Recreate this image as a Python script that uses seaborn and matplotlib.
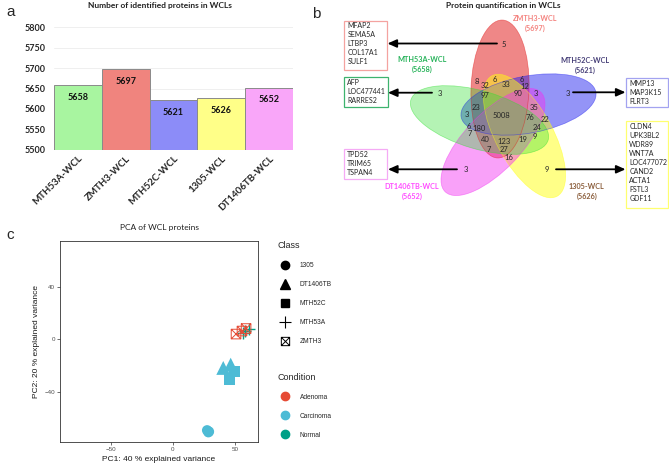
import numpy as np
import pandas as pd
import matplotlib
matplotlib.use("Agg")
import matplotlib.pyplot as plt
import seaborn as sns
from matplotlib.patches import Ellipse, Rectangle
from matplotlib.path import Path
from matplotlib.lines import Line2D

sns.set_theme(style="white")
plt.rcParams["font.family"] = ["Lato", "DejaVu Sans"]

# ---------------- data: panel a ----------------
wcl_samples = ["MTH53A-WCL", "ZMTH3-WCL", "MTH52C-WCL", "1305-WCL", "DT1406TB-WCL"]
protein_counts = [5658, 5697, 5621, 5626, 5652]
bar_colors = ["#A8F5A0", "#F0847E", "#8C8CF8", "#FFFF88", "#F9A6F9"]

# ---------------- data: panel b ----------------
venn_sets = ["ZMTH3-WCL", "MTH52C-WCL", "1305-WCL", "DT1406TB-WCL", "MTH53A-WCL"]
venn_totals = [5697, 5621, 5626, 5652, 5658]
venn_counts = [5, 8, 6, 33, 6, 32, 12, 90, 3, 3, 97, 23, 35, 3, 5008, 76, 22,
               6, 180, 24, 7, 9, 40, 123, 19, 7, 27, 16, 3, 9, 3]
genes_zmth3 = ["MFAP2", "SEMA5A", "LTBP3", "COL17A1", "SULF1"]
genes_mth53a = ["AFP", "LOC477441", "RARRES2"]
genes_mth52c = ["MMP13", "MAP3K15", "FLRT3"]
genes_1305 = ["CLDN4", "UPK3BL2", "WDR89", "WNT7A", "LOC477072", "CAND2", "ACTA1", "FSTL3", "GDF11"]
genes_dt1406tb = ["TPD52", "TRIM65", "TSPAN4"]

# ---------------- data: panel c ----------------
pca_class = ["1305"] * 3 + ["DT1406TB"] * 2 + ["MTH52C"] * 2 + ["MTH53A"] * 3 + ["ZMTH3"] * 3
pca_condition = ["Carcinoma"] * 7 + ["Normal"] * 3 + ["Adenoma"] * 3
pc1 = [27.5, 28.5, 29.0, 40.5, 46.5, 45.5, 49.5, 56.5, 58.0, 61.0, 50.8, 55.6, 58.9]
pc2 = [-69.5, -71.0, -70.5, -22.0, -19.5, -31.0, -25.0, 4.6, 6.5, 7.6, 3.8, 6.1, 8.0]
class_levels = ["1305", "DT1406TB", "MTH52C", "MTH53A", "ZMTH3"]
condition_levels = ["Adenoma", "Carcinoma", "Normal"]
condition_colors = ["#E64B35", "#4DBBD5", "#00A087"]

# ---------------- figure ----------------
W, H = 669, 467
fig = plt.figure(figsize=(W / 100, H / 100), dpi=100)


def px_axes(x0, y0, x1, y1):
    return fig.add_axes([x0 / W, 1 - y1 / H, (x1 - x0) / W, (y1 - y0) / H])


# ===== panel a =====
axa = px_axes(54, 21.2, 293, 149.7)
dfa = pd.DataFrame({"sample": wcl_samples, "count": protein_counts})
sns.barplot(data=dfa, x="sample", y="count", hue="sample", palette=bar_colors,
            width=1.0, edgecolor="#8a8a8a", linewidth=0.7, legend=False, ax=axa,
            saturation=1)
axa.set_ylim(5500, 5815)
axa.set_xlim(-0.5, 4.5)
axa.set_yticks(np.arange(5500, 5801, 50))
axa.yaxis.grid(True, color="#ececec", lw=0.6)
axa.set_axisbelow(True)
for s in axa.spines.values():
    s.set_visible(False)
axa.set_xlabel("")
axa.set_ylabel("")
axa.tick_params(axis="y", length=0, pad=6, labelsize=6.5)
axa.tick_params(axis="x", length=0, pad=3, labelsize=7)
for lab in axa.get_yticklabels():
    lab.set_fontweight("bold")
for lab in axa.get_xticklabels():
    lab.set_fontweight("bold")
    lab.set_rotation(45)
    lab.set_ha("right")
    lab.set_rotation_mode("anchor")
for cont in axa.containers:
    axa.bar_label(cont, padding=-12, fontsize=6.5, fontweight="bold", color="#111111")
fig.text(160 / W, 1 - 5.5 / H, "Number of identified proteins in WCLs", ha="center",
         va="center", fontsize=6, fontweight="bold", color="#222222")
fig.text(6 / W, 1 - 12 / H, "a", fontsize=11, family="Liberation Sans", va="center")

# ===== panel b =====
axb = px_axes(330, 0, 669, 215)
axb.set_xlim(330, 669)
axb.set_ylim(215, 0)
axb.axis("off")

ell_layout = {  # center x, center y, major, minor, screen angle (deg, y-up)
    "ZMTH3-WCL": (500, 89, 138, 58, 88),
    "MTH52C-WCL": (528.5, 104.5, 137, 57, 10.5),
    "1305-WCL": (524.5, 136, 137, 57, -61.6),
    "DT1406TB-WCL": (493, 142, 138, 57, 46.2),
    "MTH53A-WCL": (479.5, 120, 143, 58, -16.3),
}
ell_fill = {"ZMTH3-WCL": ("#E21A1A", 0.52), "MTH52C-WCL": ("#2020F0", 0.48),
            "1305-WCL": ("#FFFF10", 0.5), "DT1406TB-WCL": ("#F230F2", 0.45),
            "MTH53A-WCL": ("#30E030", 0.36)}
for name in ["ZMTH3-WCL", "MTH52C-WCL", "1305-WCL", "DT1406TB-WCL", "MTH53A-WCL"]:
    cx, cy, a, b, ang = ell_layout[name]
    col, al = ell_fill[name]
    axb.add_patch(Ellipse((cx, cy), a, b, angle=-ang, facecolor=col, alpha=al,
                          edgecolor="none"))
for name in ["ZMTH3-WCL", "MTH52C-WCL", "1305-WCL", "DT1406TB-WCL", "MTH53A-WCL"]:
    cx, cy, a, b, ang = ell_layout[name]
    col, al = ell_fill[name]
    axb.add_patch(Ellipse((cx, cy), a, b, angle=-ang, facecolor="none",
                          edgecolor=col, alpha=0.5, lw=0.5))

count_pos = [(503.3, 44.3), (476.7, 82), (494.7, 80), (505.7, 84.7), (521.7, 79),
             (484.7, 86), (525.3, 86.3), (517.7, 93), (535.7, 93.3), (568.3, 93.3),
             (484.7, 95.3), (475.7, 107.3), (534.3, 107.3), (466.7, 114.7), (501, 115.3),
             (530, 118), (545, 120), (469.3, 126.3), (479.3, 128.7), (537.3, 127.7),
             (470, 134), (534.7, 136.7), (485, 139.3), (504.3, 141.7), (522.7, 139.3),
             (489, 150), (503.7, 150), (509.3, 157.3), (466, 170), (547.3, 170), (440, 93.3)]
for n, (x, y) in zip(venn_counts, count_pos):
    axb.text(x, y, str(n), ha="center", va="center", fontsize=5.5, color="#262626")

label_layout = {"ZMTH3-WCL": (535, 18.3, "#F4827E"), "MTH52C-WCL": (585, 60.5, "#463F78"),
                "1305-WCL": (586.7, 186.7, "#8B5E3C"), "DT1406TB-WCL": (411.7, 186.7, "#FF4CFF"),
                "MTH53A-WCL": (421.7, 60, "#27B35A")}
for name, tot in zip(venn_sets, venn_totals):
    x, y, c = label_layout[name]
    axb.text(x, y, name, ha="center", va="center", fontsize=5.2, fontweight="bold", color=c)
    axb.text(x, y + 9.8, f"({tot})", ha="center", va="center", fontsize=5.2,
             fontweight="bold", color=c)

box_layout = [  # genes, x0, y0, x1, y1, edge, arrow start x, arrow end x, arrow y
    (genes_zmth3, 344, 20.7, 387, 70, "#F4A3A0", 497, 387.5, 43.5),
    (genes_mth53a, 344, 77.3, 387.7, 107.3, "#3DB36E", 432, 388, 92.7),
    (genes_mth52c, 626, 78.3, 668.3, 107.3, "#A3A3F0", 573, 625.5, 92.3),
    (genes_1305, 626, 121, 668.3, 207.7, "#FFFF70", 556, 625.5, 169.3),
    (genes_dt1406tb, 344, 149.3, 387.3, 179.3, "#F5AAF5", 457, 388, 169.3),
]
for genes, x0, y0, x1, y1, ec, ax0, ax1, ay in box_layout:
    axb.add_patch(Rectangle((x0, y0), x1 - x0, y1 - y0, facecolor="white", edgecolor=ec, lw=0.9))
    for i, g in enumerate(genes):
        axb.text(x0 + 3.3, y0 + 5.2 + 9.0 * i, g, ha="left", va="center", fontsize=5,
                 color="#262626")
    axb.annotate("", xy=(ax1, ay), xytext=(ax0, ay),
                 arrowprops=dict(arrowstyle="-|>,head_length=0.45,head_width=0.2",
                                 color="black", lw=1.3, shrinkA=0, shrinkB=0))
fig.text(503.3 / W, 1 - 5.5 / H, "Protein quantification in WCLs", ha="center",
         va="center", fontsize=6, fontweight="bold", color="#222222")
fig.text(316.5 / W, 1 - 14 / H, "b", fontsize=11, family="Liberation Sans", va="center",
         ha="center")

# ===== panel c =====
axc = px_axes(60, 241, 258, 441.7)
dfc = pd.DataFrame({"PC1": pc1, "PC2": pc2, "Class": pca_class, "Condition": pca_condition})
cond_pal = dict(zip(condition_levels, condition_colors))
xsq = Path([(-1, -1), (1, -1), (1, 1), (-1, 1), (-1, -1), (-1, -1), (1, 1), (-1, 1), (1, -1)],
           [Path.MOVETO, Path.LINETO, Path.LINETO, Path.LINETO, Path.CLOSEPOLY,
            Path.MOVETO, Path.LINETO, Path.MOVETO, Path.LINETO])
class_markers = {"1305": "o", "DT1406TB": "^", "MTH52C": "s", "MTH53A": "+", "ZMTH3": xsq}
class_sizes = {"1305": 55, "DT1406TB": 100, "MTH52C": 60, "MTH53A": 75, "ZMTH3": 48}
for cl in class_levels:
    sub = dfc[dfc["Class"] == cl]
    m = class_markers[cl]
    if cl == "ZMTH3":
        sns.scatterplot(data=sub, x="PC1", y="PC2", marker=m, s=class_sizes[cl],
                        facecolors="none", edgecolor=cond_pal["Adenoma"], linewidth=0.7,
                        legend=False, ax=axc)
    elif cl == "MTH53A":
        sns.scatterplot(data=sub, x="PC1", y="PC2", hue="Condition", palette=cond_pal,
                        marker=m, s=class_sizes[cl], linewidth=1.0, legend=False, ax=axc)
    else:
        sns.scatterplot(data=sub, x="PC1", y="PC2", hue="Condition", palette=cond_pal,
                        marker=m, s=class_sizes[cl], linewidth=0, legend=False, ax=axc)
axc.set_xlim(-91, 68.5)
axc.set_ylim(-78.2, 74.7)
axc.set_xticks([-50, 0, 50])
axc.set_yticks([-40, 0, 40])
for s in axc.spines.values():
    s.set_visible(True)
    s.set_color("#333333")
    s.set_linewidth(0.6)
axc.tick_params(axis="both", which="both", direction="out", length=2, width=0.5,
                color="#333333", labelsize=4.5, labelcolor="#4d4d4d", pad=1.5,
                bottom=True, left=True)
for lab in axc.get_xticklabels() + axc.get_yticklabels():
    lab.set_family("Liberation Sans")
axc.set_xlabel("PC1: 40 % explained variance", fontsize=6, family="Liberation Sans",
               color="#1a1a1a", labelpad=3)
axc.set_ylabel("PC2: 20 % explained variance", fontsize=6, family="Liberation Sans",
               color="#1a1a1a", labelpad=3)
fig.text(159 / W, 1 - 227.7 / H, "PCA of WCL proteins", ha="center", va="center",
         fontsize=6, color="#222222")
fig.text(6 / W, 1 - 235 / H, "c", fontsize=11, family="Liberation Sans", va="center")

# legends
class_handles = []
for cl in class_levels:
    m = class_markers[cl]
    if cl == "ZMTH3":
        h = Line2D([], [], ls="", marker=m, markersize=6, markerfacecolor="none",
                   markeredgecolor="black", markeredgewidth=0.7)
    elif cl == "MTH53A":
        h = Line2D([], [], ls="", marker=m, markersize=8, color="black", markeredgewidth=0.8)
    else:
        h = Line2D([], [], ls="", marker=m, markersize=6 if m != "^" else 7, color="black")
    class_handles.append(h)
cond_handles = [Line2D([], [], ls="", marker="o", markersize=6, color=c) for c in condition_colors]

leg_kw = dict(frameon=False, loc="upper left", bbox_transform=fig.transFigure,
              prop={"family": "Liberation Sans", "size": 4.8}, title_fontsize=6.5,
              handlelength=2.4, handletextpad=1.05, labelspacing=1.75, borderpad=0,
              borderaxespad=0, alignment="left", handleheight=1.0)
leg1 = axc.legend(class_handles, class_levels, title="Class",
                  bbox_to_anchor=(277 / W, 1 - 241.5 / H), **leg_kw)
leg1.get_title().set_family("Liberation Sans")
axc.add_artist(leg1)
leg2 = axc.legend(cond_handles, condition_levels, title="Condition",
                  bbox_to_anchor=(277 / W, 1 - 373 / H), **leg_kw)
leg2.get_title().set_family("Liberation Sans")

fig.savefig("out.png", dpi=100)
